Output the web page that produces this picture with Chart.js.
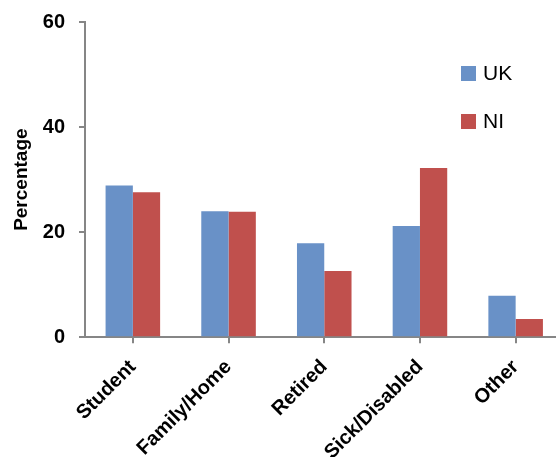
<!DOCTYPE html>
<html lang="en">
<head>
    <meta charset="UTF-8">
    <title>Percentage UK vs NI</title>
    <script src="https://cdn.jsdelivr.net/npm/chart.js"></script>
    <style>
        html, body { margin: 0; padding: 0; background: white; overflow: hidden; }
        .chart-container { width: 570px; height: 457px; }
    </style>
</head>
<body>
    <div class="chart-container">
        <canvas id="grafico" width="570" height="457"></canvas>
    </div>

    <script>
        const categorias = ['Student', 'Family/Home', 'Retired', 'Sick/Disabled', 'Other'];
        const valoresUK = [28.9, 24.0, 17.9, 21.2, 7.9];
        const valoresNI = [27.6, 23.9, 12.6, 32.2, 3.5];
        const ticksY = [0, 20, 40, 60];

        const corUK = '#6991C7';
        const corNI = '#C0504D';
        const cinza = '#868686';
        const fonte = '"Liberation Sans", Arial, sans-serif';

        // legend drawn by hand, stacked vertically like the original
        const legendaManual = {
            id: 'legendaManual',
            afterDraw(chart) {
                const ctx = chart.ctx;
                ctx.save();
                ctx.font = '21px ' + fonte;
                ctx.textBaseline = 'middle';
                chart.data.datasets.forEach((ds, i) => {
                    const y = 74 + i * 48;
                    ctx.fillStyle = ds.backgroundColor;
                    ctx.fillRect(461, y - 8, 15, 15);
                    ctx.fillStyle = '#000';
                    ctx.fillText(ds.label, 483, y);
                });
                ctx.restore();
            }
        };

        const ctx = document.getElementById('grafico').getContext('2d');
        new Chart(ctx, {
            type: 'bar',
            data: {
                labels: categorias,
                datasets: [
                    { label: 'UK', data: valoresUK, backgroundColor: corUK },
                    { label: 'NI', data: valoresNI, backgroundColor: corNI }
                ]
            },
            options: {
                responsive: false,
                animation: false,
                categoryPercentage: 0.57,
                barPercentage: 1.0,
                layout: { padding: { top: 22, right: 6.5, left: 0, bottom: 0 } },
                plugins: { legend: { display: false }, tooltip: { enabled: false } },
                scales: {
                    x: {
                        grid: { offset: false, drawOnChartArea: false, drawTicks: true, tickLength: 6, color: cinza, lineWidth: 2 },
                        border: { color: cinza, width: 2 },
                        ticks: {
                            minRotation: 45, maxRotation: 45, color: '#000', padding: 12,
                            font: { family: fonte, size: 20, weight: 'bold' }
                        },
                        afterFit(scale) { scale.height = 119.7; }
                    },
                    y: {
                        min: 0, max: 60,
                        afterBuildTicks(scale) { scale.ticks = ticksY.map(v => ({ value: v })); },
                        grid: { drawOnChartArea: false, drawTicks: true, tickLength: 6, color: cinza, lineWidth: 2 },
                        border: { color: cinza, width: 2 },
                        ticks: {
                            color: '#000', padding: 14,
                            font: { family: fonte, size: 20, weight: 'bold' }
                        },
                        title: {
                            display: true, text: 'Percentage', color: '#000', padding: { top: 10, bottom: 0 },
                            font: { family: fonte, size: 19, weight: 'bold' }
                        },
                        afterFit(scale) { scale.width = 85; scale.paddingTop = 0; scale.paddingBottom = 0; }
                    }
                }
            },
            plugins: [legendaManual]
        });
    </script>
</body>
</html>
